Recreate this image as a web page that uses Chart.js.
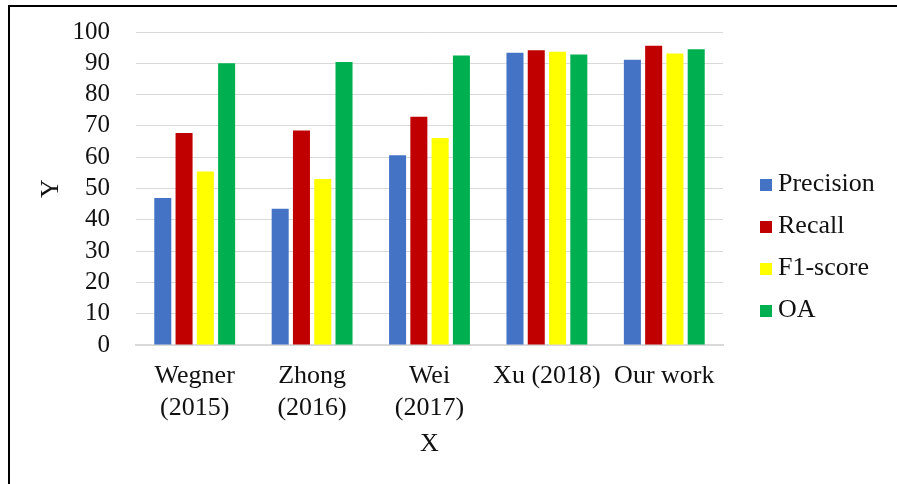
<!DOCTYPE html>
<html>
<head>
<meta charset="utf-8">
<script src="https://cdn.jsdelivr.net/npm/chart.js@4"></script>
<style>
  html, body { margin: 0; padding: 0; background: #ffffff; }
  #wrap { position: relative; width: 897px; height: 484px; }
</style>
</head>
<body>
<div id="wrap"><canvas id="chart" width="897" height="484"></canvas></div>
<script>
// Method comparison: four metrics per method (percent)
const categories = [['Wegner', '(2015)'], ['Zhong', '(2016)'], ['Wei', '(2017)'], 'Xu (2018)', 'Our work'];
const precision = [47.0, 43.5, 60.6, 93.4, 91.1];
const recall    = [67.7, 68.5, 72.9, 94.2, 95.6];
const f1Score   = [55.4, 53.0, 66.1, 93.7, 93.1];
const oa        = [90.0, 90.4, 92.5, 92.8, 94.5];
const seriesNames  = ['Precision', 'Recall', 'F1-score', 'OA'];
const seriesColors = ['#4472C4', '#C00000', '#FFFF00', '#00B050'];
const yMin = 0, yMax = 100, yStep = 10;

const serif = '"Liberation Serif", "Times New Roman", serif';
const textColor = '#111111';

// Thin black frame along the top and left edge
const framePlugin = {
  id: 'frame',
  afterDraw(chart) {
    const ctx = chart.ctx;
    ctx.save();
    ctx.fillStyle = '#000000';
    ctx.fillRect(8, 5, chart.width - 8, 2);
    ctx.fillRect(8, 5, 2, chart.height - 5);
    ctx.restore();
  }
};

// Legend drawn as a column at the right of the plot
const sideLegendPlugin = {
  id: 'sideLegend',
  afterDraw(chart) {
    const ctx = chart.ctx;
    const box = 12, boxX = 760, textX = 778, firstTop = 179, step = 42;
    ctx.save();
    ctx.font = '26px ' + serif;
    ctx.textAlign = 'left';
    ctx.textBaseline = 'alphabetic';
    chart.data.datasets.forEach((ds, i) => {
      const top = firstTop + i * step;
      ctx.fillStyle = ds.backgroundColor;
      ctx.fillRect(boxX, top, box, box);
      ctx.fillStyle = textColor;
      ctx.fillText(ds.label, textX, top + box);
    });
    ctx.restore();
  }
};

const seriesValues = [precision, recall, f1Score, oa];

new Chart(document.getElementById('chart'), {
  type: 'bar',
  data: {
    labels: categories,
    datasets: seriesNames.map((name, i) => ({
      label: name,
      data: seriesValues[i],
      backgroundColor: seriesColors[i],
      borderWidth: 0,
      categoryPercentage: 0.725,
      barPercentage: 0.8
    }))
  },
  options: {
    responsive: false,
    animation: false,
    devicePixelRatio: 1,
    layout: { padding: { top: 32, right: 174, bottom: 0, left: 0 } },
    plugins: {
      legend: { display: false },
      tooltip: { enabled: false }
    },
    scales: {
      x: {
        grid: { display: false, drawTicks: false },
        border: { display: true, color: '#d9d9d9', width: 2 },
        ticks: {
          color: textColor,
          padding: 15,
          maxRotation: 0,
          autoSkip: false,
          font: { family: serif, size: 26, lineHeight: 1.23 }
        },
        title: {
          display: true,
          text: 'X',
          color: textColor,
          font: { family: serif, size: 26, lineHeight: 1.2 },
          padding: { top: 0, bottom: 24 }
        },
        afterFit(scale) {
          scale.height = 139;
          scale.paddingLeft = 0;
          scale.paddingRight = 0;
        }
      },
      y: {
        min: yMin,
        max: yMax,
        grid: { color: '#d9d9d9', lineWidth: 1, drawTicks: false },
        border: { display: false },
        ticks: {
          stepSize: yStep,
          autoSkip: false,
          color: textColor,
          padding: 26,
          font: { family: serif, size: 25 }
        },
        title: {
          display: true,
          text: 'Y',
          color: textColor,
          font: { family: serif, size: 26, lineHeight: 1.2 },
          padding: { top: 36, bottom: 0 }
        },
        afterFit(scale) {
          scale.width = 136;
          scale.paddingTop = 0;
          scale.paddingBottom = 0;
        }
      }
    }
  },
  plugins: [framePlugin, sideLegendPlugin]
});
</script>
</body>
</html>
